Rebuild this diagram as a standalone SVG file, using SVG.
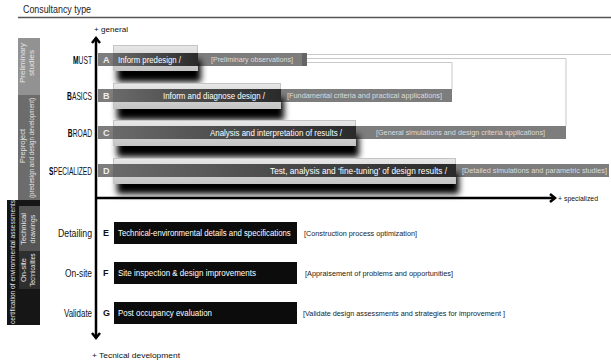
<svg xmlns="http://www.w3.org/2000/svg" width="611" height="362" viewBox="0 0 611 362">
<style>
text{font-family:"Liberation Sans Narrow","Liberation Sans",Arial,sans-serif;}
.lbl{font-size:10px;fill:#111;}
.lbs{font-size:10px;fill:#111;text-anchor:end;}
.let{font-size:9px;font-weight:bold;}
.band{fill:#7d7d7d;}
.box{fill:url(#boxg);stroke:#c4c4c4;stroke-width:1;}
.inb{fill:url(#bandg);}
.wt{font-size:9px;fill:#fff;}
.br{font-size:7px;fill:#dcdcdc;}
.brk{font-size:7px;fill:#222;}
.blk{fill:#0c0c0c;}
.side{font-size:7px;fill:#e4e4e4;text-anchor:middle;}
.axis{stroke:#000;stroke-width:2.5;fill:none;}
.scope{stroke:#c8c8c8;stroke-width:1;fill:none;}
.shd{fill:#000;filter:url(#sh);}
</style>
<defs>
<linearGradient id="boxg" x1="0" y1="0" x2="0" y2="1">
<stop offset="0" stop-color="#e8e8e8"/><stop offset="1" stop-color="#c4c4c4"/>
</linearGradient>
<linearGradient id="bandg" x1="0" y1="0" x2="1" y2="0">
<stop offset="0" stop-color="#6a6a6a"/><stop offset="1" stop-color="#2a2a2a"/>
</linearGradient>
<filter id="sh" x="-20%" y="-80%" width="140%" height="260%">
<feGaussianBlur stdDeviation="3.2"/>
</filter>
</defs>
<rect width="611" height="362" fill="#fff"/>

<g id="header">
<text x="23" y="13" font-size="10" fill="#222" textLength="68" lengthAdjust="spacingAndGlyphs">Consultancy type</text>
<line x1="18" y1="17.5" x2="611" y2="17.5" stroke="#555" stroke-width="1.5"/>
</g>

<g id="sidebar">
<rect x="18" y="38" width="22" height="57" fill="#929292"/>
<text class="side" transform="translate(25,63) rotate(-90)" textLength="40" lengthAdjust="spacingAndGlyphs">Preliminary</text>
<text class="side" transform="translate(34,63) rotate(-90)" textLength="26" lengthAdjust="spacingAndGlyphs">studies</text>
<rect x="18" y="95" width="22" height="105" fill="#6c6c6c"/>
<text class="side" transform="translate(25,146) rotate(-90)" textLength="34" lengthAdjust="spacingAndGlyphs">Preproject</text>
<text class="side" transform="translate(34,148) rotate(-90)" textLength="100" lengthAdjust="spacingAndGlyphs">(predesign and design development)</text>
<rect x="7" y="200" width="33" height="125" fill="#161616"/>
<rect x="19" y="206" width="21" height="45" fill="#555"/>
<rect x="19" y="251" width="21" height="38" fill="#2e2e2e"/>
<text class="side" transform="translate(14.5,262) rotate(-90)" font-size="6.5" fill="#bbb" textLength="124" lengthAdjust="spacingAndGlyphs">certification of environmental assessments</text>
<text class="side" transform="translate(26,229) rotate(-90)" textLength="32" lengthAdjust="spacingAndGlyphs">Technical</text>
<text class="side" transform="translate(35,229) rotate(-90)" textLength="29" lengthAdjust="spacingAndGlyphs">drawings</text>
<text class="side" transform="translate(26,270) rotate(-90)" font-size="8" textLength="24" lengthAdjust="spacingAndGlyphs">On-site</text>
<text class="side" transform="translate(35,270) rotate(-90)" font-size="5.5" fill="#bbb" textLength="33" lengthAdjust="spacingAndGlyphs">Technicalities</text>
</g>

<g id="connectors">
<polyline class="scope" points="307,54.5 611,54.5"/>
<polyline class="scope" points="307,58.5 566,58.5 566,126"/>
<polyline class="scope" points="307,62.5 452,62.5 452,89"/>
<line class="axis" x1="96" y1="38" x2="96" y2="338"/>
<path class="axis" d="M92,43 L96,38 L100,43"/>
<path class="axis" d="M92,333 L96,338 L100,333"/>
<line class="axis" x1="96" y1="198" x2="555" y2="198"/>
<path class="axis" d="M550,194 L555,198 L550,202"/>
<text x="94" y="32" font-size="8" fill="#111" textLength="34" lengthAdjust="spacingAndGlyphs">+ general</text>
<text x="558" y="201" font-size="7" fill="#111" textLength="40" lengthAdjust="spacingAndGlyphs">+ specialized</text>
<text x="92" y="358" font-size="8" fill="#111" textLength="88" lengthAdjust="spacingAndGlyphs">+ Tecnical development</text>
</g>

<g id="nodeA">
<text class="lbs" transform="translate(92,63.5) scale(0.67,1)"><tspan font-weight="bold" fill="#000">M</tspan>UST</text>
<rect class="band" x="98" y="53" width="209" height="13"/>
<rect x="302" y="53" width="5" height="13" fill="#666"/>
<rect class="shd" x="117" y="60" width="84" height="22"/>
<rect class="box" x="113.5" y="45.5" width="84" height="25"/>
<rect class="inb" x="113" y="53" width="85" height="13"/>
<text class="let" x="103" y="63" fill="#eee">A</text>
<text class="wt" x="118" y="63" textLength="63" lengthAdjust="spacingAndGlyphs">Inform predesign /</text>
<text class="br" x="211" y="62" textLength="82" lengthAdjust="spacingAndGlyphs">[Preliminary observations]</text>
</g>

<g id="nodeB">
<text class="lbs" transform="translate(92,99.5) scale(0.67,1)"><tspan font-weight="bold" fill="#000">B</tspan>ASICS</text>
<rect class="band" x="98" y="89" width="354" height="13"/>
<rect class="shd" x="117" y="98" width="167" height="22"/>
<rect class="box" x="113.5" y="83.5" width="167" height="25"/>
<rect class="inb" x="113" y="89" width="168" height="13"/>
<text class="let" x="103" y="99" fill="#eee">B</text>
<text class="wt" x="265" y="99" text-anchor="end" textLength="102" lengthAdjust="spacingAndGlyphs">Inform and diagnose design /</text>
<text class="br" x="287" y="98" textLength="155" lengthAdjust="spacingAndGlyphs">[Fundamental criteria and practical applications]</text>
</g>

<g id="nodeC">
<text class="lbs" transform="translate(92,136.5) scale(0.67,1)"><tspan font-weight="bold" fill="#000">B</tspan>ROAD</text>
<rect class="band" x="98" y="126" width="468" height="13"/>
<rect class="shd" x="117" y="135" width="242" height="22"/>
<rect class="box" x="113.5" y="120.5" width="242" height="25"/>
<rect class="inb" x="113" y="126" width="243" height="13"/>
<text class="let" x="103" y="136" fill="#eee">C</text>
<text class="wt" x="342" y="136" text-anchor="end" textLength="132" lengthAdjust="spacingAndGlyphs">Analysis and interpretation of results /</text>
<text class="br" x="376" y="135" textLength="169" lengthAdjust="spacingAndGlyphs">[General simulations and design criteria applications]</text>
</g>

<g id="nodeD">
<text class="lbs" transform="translate(92,174.5) scale(0.66,1)"><tspan font-weight="bold" fill="#000">S</tspan>PECIALIZED</text>
<rect class="band" x="98" y="164" width="511" height="13"/>
<rect class="shd" x="117" y="173" width="342" height="21"/>
<rect class="box" x="113.5" y="158.5" width="342" height="25"/>
<rect class="inb" x="113" y="164" width="343" height="13"/>
<text class="let" x="103" y="174" fill="#eee">D</text>
<text class="wt" x="447" y="174" text-anchor="end" textLength="177" lengthAdjust="spacingAndGlyphs">Test, analysis and ‘fine-tuning’ of design results /</text>
<text class="br" x="462" y="173" textLength="145" lengthAdjust="spacingAndGlyphs">[Detailed simulations and parametric studies]</text>
</g>

<g id="nodeE">
<text class="lbl" x="58" y="236.5" font-size="9" textLength="34" lengthAdjust="spacingAndGlyphs">Detailing</text>
<text class="let" x="103" y="236" fill="#111">E</text>
<rect class="blk" x="114" y="222" width="183" height="22"/>
<text class="wt" transform="translate(118,236) scale(0.867,1)">Technical-environmental details and specifications</text>
<text class="brk" x="304" y="236" textLength="113" lengthAdjust="spacingAndGlyphs">[Construction process optimization]</text>
</g>

<g id="nodeF">
<text class="lbl" x="65" y="276.5" font-size="9" textLength="27" lengthAdjust="spacingAndGlyphs">On-site</text>
<text class="let" x="103" y="276" fill="#111">F</text>
<rect class="blk" x="114" y="262" width="183" height="22"/>
<text class="wt" x="118" y="276" textLength="138" lengthAdjust="spacingAndGlyphs">Site inspection &amp; design improvements</text>
<text class="brk" x="305" y="276" textLength="148" lengthAdjust="spacingAndGlyphs">[Appraisement of problems and opportunities]</text>
</g>

<g id="nodeG">
<text class="lbl" x="64" y="316.5" font-size="9" textLength="28" lengthAdjust="spacingAndGlyphs">Validate</text>
<text class="let" x="103" y="316" fill="#111">G</text>
<rect class="blk" x="114" y="302" width="183" height="22"/>
<text class="wt" x="118" y="316" textLength="94" lengthAdjust="spacingAndGlyphs">Post occupancy evaluation</text>
<text class="brk" x="303" y="316" textLength="202" lengthAdjust="spacingAndGlyphs">[Validate design assessments and strategies for improvement ]</text>
</g>
</svg>
